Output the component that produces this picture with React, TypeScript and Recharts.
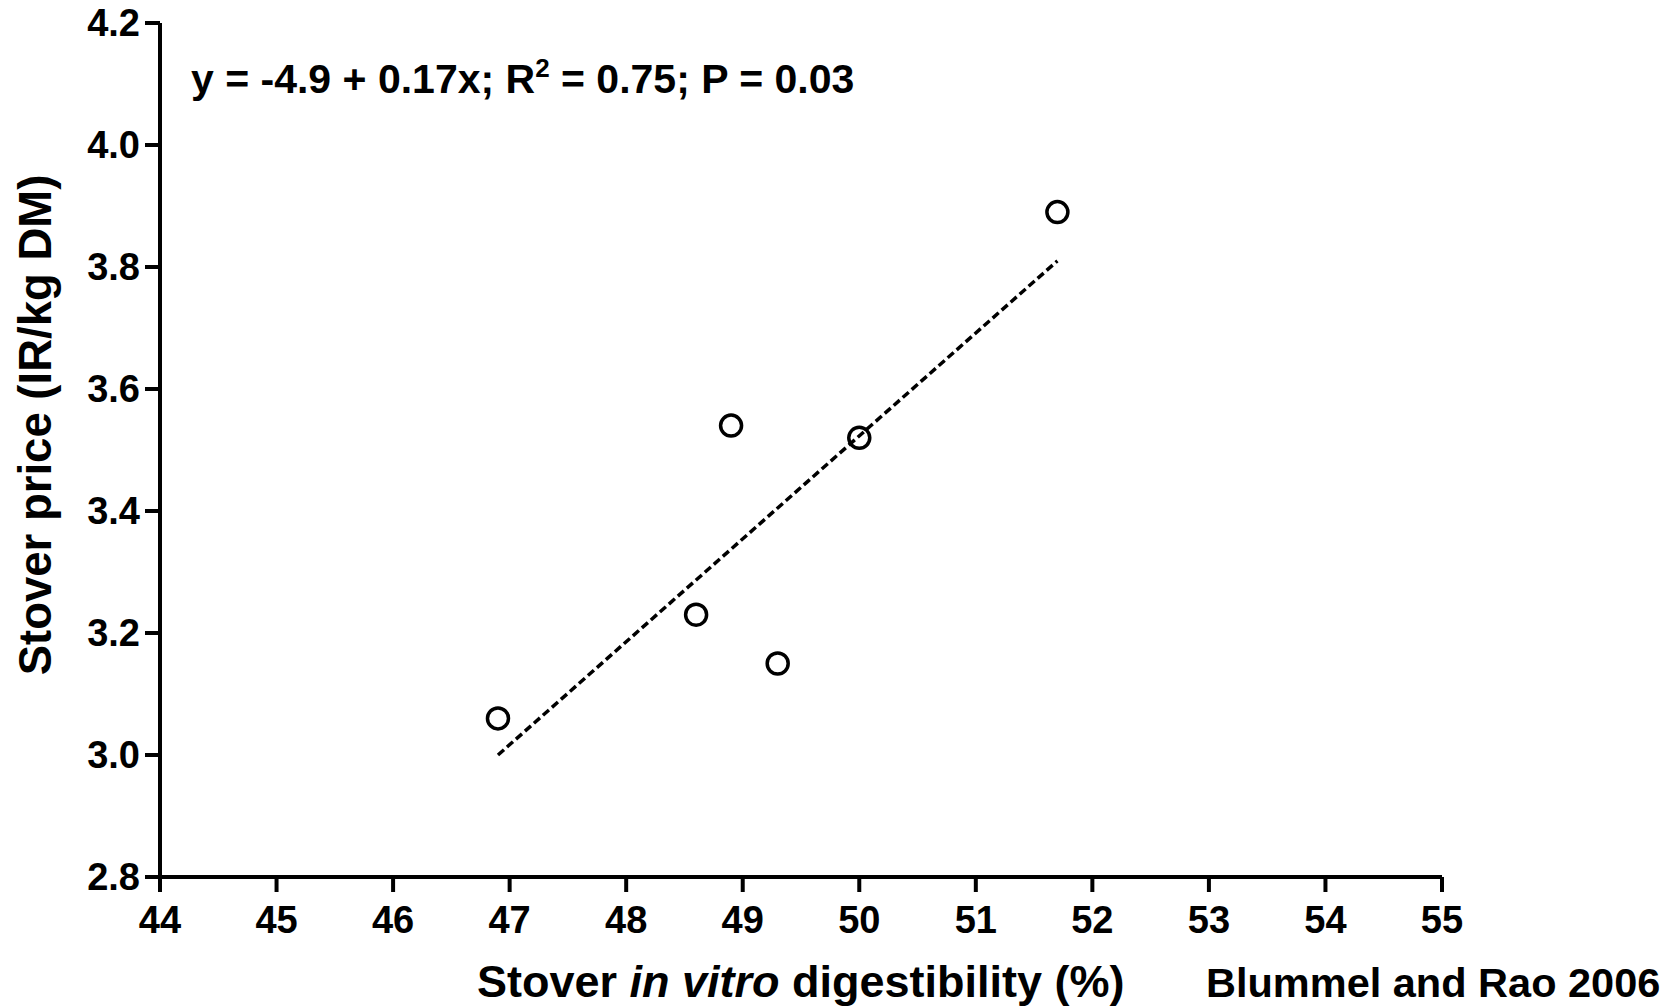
import { Scatter, ScatterChart, XAxis, YAxis } from 'recharts';

const digestibility = [46.9, 48.6, 48.9, 49.3, 50.0, 51.7];
const stoverPrice = [3.06, 3.23, 3.54, 3.15, 3.52, 3.89];

// ends of the fitted line as drawn in the figure
const fitX = [46.9, 51.7];
const fitY = [3.0, 3.81];

const xTicks = [44, 45, 46, 47, 48, 49, 50, 51, 52, 53, 54, 55];
const yTicks = [2.8, 3.0, 3.2, 3.4, 3.6, 3.8, 4.0, 4.2];

const points = digestibility.map((x, i) => ({ x, y: stoverPrice[i] }));
const fitLine = fitX.map((x, i) => ({ x, y: fitY[i] }));

const font = '"Liberation Sans", Arial, sans-serif';
const tickStyle = { fill: '#000', fontSize: 38, fontWeight: 700, fontFamily: font };
const axisStroke = { stroke: '#000', strokeWidth: 4 };

const OpenCircle = (props: any) => (
  <circle cx={props.cx} cy={props.cy} r={10.5} fill="none" stroke="#000" strokeWidth={3.5} />
);

export default function App() {
  return (
    <div style={{ position: 'absolute', left: 0, top: 0, width: 1672, height: 1008, background: '#fff' }}>
      <ScatterChart width={1672} height={1008} margin={{ top: 23, right: 230, bottom: 0, left: 0 }}>
        <XAxis
          type="number"
          dataKey="x"
          domain={[44, 55]}
          ticks={xTicks}
          interval={0}
          height={131}
          axisLine={axisStroke}
          tickLine={axisStroke}
          tickSize={15}
          tickMargin={14}
          tick={tickStyle}
        />
        <YAxis
          type="number"
          dataKey="y"
          domain={[2.8, 4.2]}
          ticks={yTicks}
          interval={0}
          width={160}
          axisLine={axisStroke}
          tickLine={axisStroke}
          tickSize={15}
          tickMargin={5}
          tick={tickStyle}
          tickFormatter={(v: number) => v.toFixed(1)}
        />
        <Scatter
          data={fitLine}
          line={{ stroke: '#000', strokeWidth: 3.5, strokeDasharray: '8 4' }}
          shape={() => <g />}
          isAnimationActive={false}
        />
        <Scatter data={points} shape={OpenCircle} isAnimationActive={false} />
      </ScatterChart>

      <svg
        width={1672}
        height={1008}
        style={{ position: 'absolute', left: 0, top: 0, pointerEvents: 'none' }}
        fontFamily={font}
        fontWeight={700}
        fill="#000"
      >
        <text x={191} y={93} fontSize={41}>
          y = -4.9 + 0.17x; R
          <tspan fontSize={26} dy={-16}>2</tspan>
          <tspan dy={16}> = 0.75; P = 0.03</tspan>
        </text>
        <text x={51} y={425} fontSize={45.5} textAnchor="middle" transform="rotate(-90 51 425)">
          Stover price (IR/kg DM)
        </text>
        <text x={477} y={997} fontSize={45}>
          Stover <tspan fontStyle="italic">in vitro</tspan> digestibility (%)
        </text>
        <text x={1206} y={997} fontSize={41.5}>
          Blummel and Rao 2006
        </text>
      </svg>
    </div>
  );
}
